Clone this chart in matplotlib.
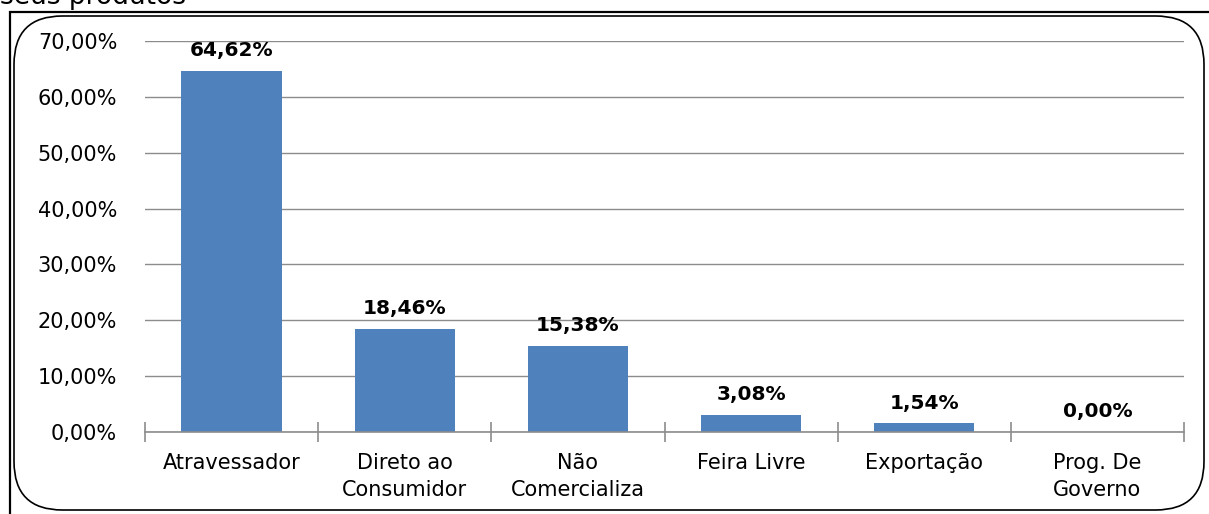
import matplotlib.pyplot as plt
from matplotlib.patches import FancyBboxPatch, Rectangle

categorias = ["Atravessador", "Direto ao\nConsumidor", "Não\nComercializa", "Feira Livre", "Exportação", "Prog. De\nGoverno"]
valores = [64.62, 18.46, 15.38, 3.08, 1.54, 0.00]
rotulos = ["64,62%", "18,46%", "15,38%", "3,08%", "1,54%", "0,00%"]
yticks = [0, 10, 20, 30, 40, 50, 60, 70]

plt.rcParams['font.family'] = ['DejaVu Sans']

W, H = 1209, 514
fig = plt.figure(figsize=(W / 100, H / 100), dpi=100)

# moldura externa (linha dupla, interna arredondada)
fig.patches.append(Rectangle((10 / W, -0.1), 1.2, 1.1 - 12 / H, transform=fig.transFigure,
                             fill=False, edgecolor="black", linewidth=1.6))
fig.patches.append(FancyBboxPatch((14 / W, 4 / H), (1204 - 14) / W, (498 - 4) / H,
                                  boxstyle="round,pad=0,rounding_size=0.04",
                                  transform=fig.transFigure, fill=False,
                                  edgecolor="black", linewidth=1.2,
                                  mutation_aspect=W / H))

# título cortado no topo
fig.text(0, 1 - 4 / H, "seus produtos", fontsize=19, va="baseline", ha="left")

ax = fig.add_axes([145 / W, 1 - 432 / H, (1184 - 145) / W, (432 - 41) / H])
x = list(range(len(categorias)))
ax.bar(x, valores, width=0.58, color="#4F81BD", zorder=3)
for xi, v, r in zip(x, valores, rotulos):
    ax.text(xi, v + 3.6, r, ha="center", va="center", fontsize=14.5, fontweight="bold")

ax.set_xlim(-0.5, len(categorias) - 0.5)
ax.set_ylim(0, 70)
ax.set_yticks(yticks)
ax.set_yticklabels([f"{t:.2f}%".replace(".", ",") for t in yticks], fontsize=15)
ax.yaxis.grid(True, color="#8c8c8c", linewidth=1, zorder=0)
ax.tick_params(axis="y", length=0, pad=20)

ax.set_xticks(x)
ax.set_xticklabels(categorias, fontsize=15, linespacing=1.45)
ax.set_xticks([i - 0.5 for i in range(len(categorias) + 1)], minor=True)
ax.tick_params(axis="x", which="major", length=0, pad=15)
ax.tick_params(axis="x", which="minor", length=14, direction="inout", color="#8c8c8c", width=1.2)

for s in ["top", "right", "left"]:
    ax.spines[s].set_visible(False)
ax.spines["bottom"].set_color("#8c8c8c")
ax.spines["bottom"].set_linewidth(1.2)
ax.spines["bottom"].set_zorder(4)

fig.savefig("out.png", dpi=100)
